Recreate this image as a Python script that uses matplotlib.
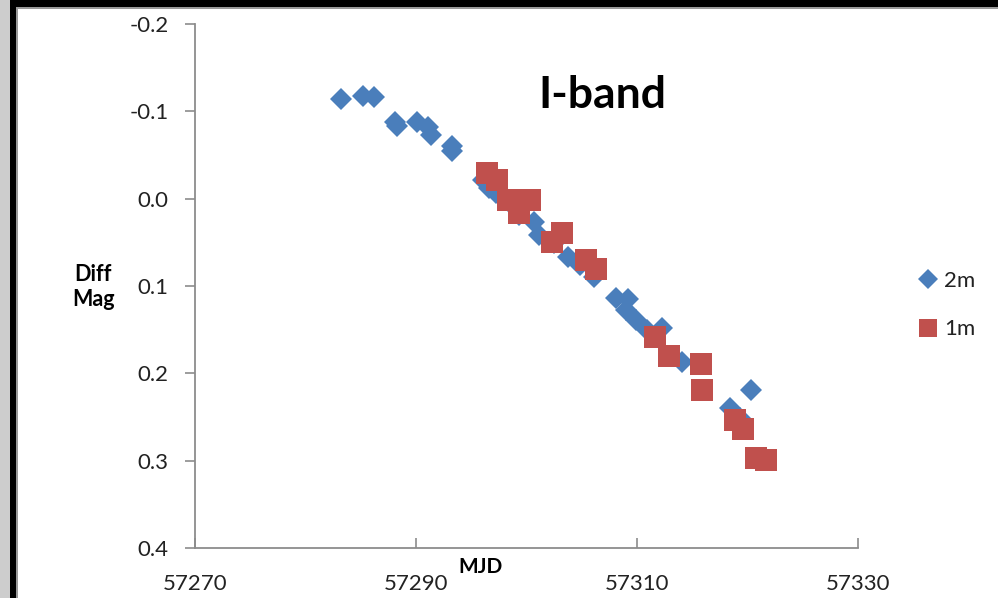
import matplotlib
matplotlib.use("Agg")
import matplotlib.pyplot as plt
from matplotlib.patches import Rectangle

plt.rcParams['font.family'] = ['Lato', 'DejaVu Sans']
plt.rcParams['axes.unicode_minus'] = False

# 2m telescope (blue diamonds)
mjd_2m = [57283.2, 57285.2, 57286.2, 57288.1, 57288.3, 57290.1, 57291.1, 57291.4,
          57293.3, 57293.3, 57296.1, 57296.6, 57297.2, 57298.5, 57299.3, 57300.7,
          57301.1, 57302.5, 57303.8, 57304.8, 57306.1, 57308.1, 57309.2, 57309.0,
          57309.9, 57310.9, 57312.3, 57314.1, 57320.3, 57318.4, 57319.3]
mag_2m = [-0.114, -0.118, -0.116, -0.088, -0.083, -0.088, -0.082, -0.073,
          -0.060, -0.055, -0.021, -0.012, -0.006, 0.005, 0.019, 0.027,
          0.042, 0.051, 0.067, 0.076, 0.090, 0.114, 0.115, 0.128,
          0.139, 0.150, 0.148, 0.187, 0.219, 0.240, 0.251]

# 1m telescope (red squares)
mjd_1m = [57296.4, 57297.3, 57298.3, 57299.3, 57300.3, 57302.3, 57303.2, 57305.4,
          57306.3, 57311.6, 57312.9, 57315.8, 57315.9, 57318.9, 57319.6, 57320.8, 57321.7]
mag_1m = [-0.029, -0.021, 0.002, 0.016, 0.002, 0.050, 0.039, 0.070,
          0.081, 0.158, 0.180, 0.189, 0.219, 0.253, 0.264, 0.297, 0.299]

x_ticks = [57270, 57290, 57310, 57330]
y_ticks = [-0.2, -0.1, 0.0, 0.1, 0.2, 0.3, 0.4]

W, H = 998, 598
fig = plt.figure(figsize=(W / 100, H / 100), dpi=100)
fig.patch.set_facecolor('white')

# frame decoration
fig.patches.append(Rectangle((0, 0), 10 / W, 1, transform=fig.transFigure,
                             facecolor='#cdcdcd', edgecolor='none', zorder=0))
fig.patches.append(Rectangle((10 / W, 0), 6 / W, 1, transform=fig.transFigure,
                             facecolor='black', edgecolor='none', zorder=0))
fig.patches.append(Rectangle((16 / W, 0), 2 / W, 1 - 7 / H, transform=fig.transFigure,
                             facecolor='#9a9a9a', edgecolor='none', zorder=0))
fig.patches.append(Rectangle((10 / W, 1 - 7 / H), 1, 7 / H, transform=fig.transFigure,
                             facecolor='black', edgecolor='none', zorder=0))
fig.patches.append(Rectangle((16 / W, 1 - 9 / H), 1, 2 / H, transform=fig.transFigure,
                             facecolor='#9a9a9a', edgecolor='none', zorder=0))

ax = fig.add_axes([195 / W, 1 - 548 / H, (858 - 195) / W, (548 - 24) / H])
ax.set_facecolor('none')

ax.plot(mjd_2m, mag_2m, linestyle='none', marker='D', markersize=11.5,
        color='#4a7ebb', markeredgewidth=0, label='2m', zorder=3)
ax.plot(mjd_1m, mag_1m, linestyle='none', marker='s', markersize=15.5,
        color='#c0504d', markeredgewidth=0, label='1m', zorder=4)

ax.set_xlim(57270, 57330)
ax.set_ylim(0.4, -0.2)
ax.set_xticks(x_ticks)
ax.set_yticks(y_ticks)
ax.set_yticklabels([f"{v:.1f}" for v in y_ticks])
ax.set_xticklabels([str(v) for v in x_ticks])

for s in ['top', 'right']:
    ax.spines[s].set_visible(False)
for s in ['left', 'bottom']:
    ax.spines[s].set_color('#8c8c8c')
    ax.spines[s].set_linewidth(1.3)

ax.tick_params(axis='x', direction='in', length=7, width=1.2, color='#8c8c8c',
               labelsize=16, pad=19, labelcolor='#222222')
ax.tick_params(axis='y', direction='out', length=7, width=1.2, color='#8c8c8c',
               labelsize=16, pad=12, labelcolor='#222222')

ax.text(0.614, 0.864, 'I-band', transform=ax.transAxes, ha='center', va='center',
        fontsize=32, fontweight='bold')

fig.text(480 / W, 1 - 567 / H, 'MJD', ha='center', va='center', fontsize=15,
         fontweight='bold')
fig.text(93 / W, 1 - 287 / H, 'Diff\nMag', ha='center', va='center', fontsize=15.5,
         fontweight='bold', linespacing=1.2)

leg = ax.legend(loc='center left', bbox_to_anchor=(906 / W, 1 - 305 / H),
                bbox_transform=fig.transFigure, frameon=False, fontsize=16,
                handletextpad=0.1, labelspacing=1.3, markerscale=0.85,
                handlelength=1.2, borderaxespad=0)
for t in leg.get_texts():
    t.set_color('#222222')

fig.savefig('out.png', dpi=100)
